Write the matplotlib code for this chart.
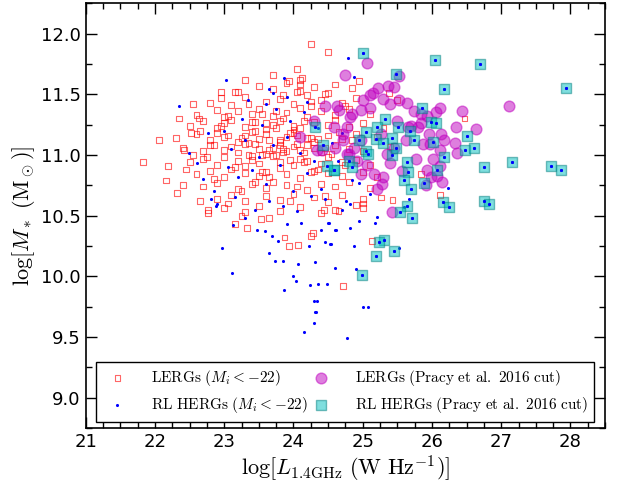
import matplotlib
matplotlib.use('Agg')
import matplotlib.pyplot as plt
from matplotlib.ticker import MultipleLocator

plt.rcParams['mathtext.fontset'] = 'cm'

# LERGs (Mi < -22)
lerg_x = [23.2, 23.5, 23.7, 23.9, 24.1, 24.3, 24.5, 24.6,
          22.8, 22.95, 23.1, 23.3, 23.6, 23.8, 24.0, 24.2, 24.4, 24.7, 24.9,
          22.6, 22.9, 23.0, 23.2, 23.4, 23.5, 23.7, 23.9, 24.1, 24.2, 24.4, 24.6, 24.8, 25.1,
          22.5, 22.7, 22.9, 23.0, 23.1, 23.3, 23.4, 23.6, 23.7, 23.8, 24.0, 24.1, 24.3, 24.5, 24.6, 24.8, 25.0, 25.3,
          22.3, 22.6, 22.8, 22.9, 23.0, 23.2, 23.3, 23.4, 23.5, 23.6, 23.8, 23.9, 24.0, 24.2, 24.3, 24.5, 24.7, 24.9, 25.2,
          22.4, 22.7, 22.8, 23.0, 23.1, 23.2, 23.3, 23.5, 23.6, 23.7, 23.8, 23.9, 24.0, 24.1, 24.3, 24.4, 24.6, 24.8, 25.0, 25.4,
          22.5, 22.7, 22.9, 23.0, 23.2, 23.3, 23.4, 23.5, 23.7, 23.8, 24.0, 24.1, 24.2, 24.4, 24.5, 24.7, 24.9, 25.1,
          22.6, 22.8, 23.0, 23.1, 23.3, 23.5, 23.6, 23.8, 23.9, 24.1, 24.3, 24.5, 24.7, 25.0, 25.2,
          22.7, 22.9, 23.2, 23.4, 23.6, 23.7, 23.9, 24.2, 24.4, 24.6, 24.8, 25.1,
          22.9, 23.1, 23.3, 23.6, 23.8, 24.0, 24.3, 24.5, 24.7, 25.0,
          23.0, 23.3, 23.5, 23.8, 24.1, 24.4, 24.6, 24.9,
          23.35, 23.45, 23.55, 23.65, 23.75, 23.85, 23.95, 24.05, 24.15, 24.25, 23.4, 23.6, 23.8, 24.0, 24.2,
          22.65, 22.85, 23.05, 23.25, 23.45, 23.65, 23.85, 24.05, 24.25, 24.45, 24.65, 24.85,
          22.75, 22.95, 23.15, 23.35, 23.55, 23.75, 23.95, 24.15, 24.35, 24.55, 24.75,
          22.55, 22.85, 23.05, 23.25, 23.45, 23.65, 23.85, 24.05, 24.25, 24.45,
          23.15, 23.35, 23.55, 23.75, 23.95, 24.15, 24.35, 23.05, 23.45, 23.85, 24.25,
          22.45, 22.65, 22.35, 22.55, 22.95, 23.25, 23.65, 24.05, 24.45, 24.75, 23.7, 23.3,
          24.25, 24.5, 24.05, 24.09, 24.12, 23.93, 24.09, 22.06, 21.83, 22.19, 22.16, 22.32, 22.41, 22.42,
          22.52, 22.63, 22.77, 22.77, 23.16, 23.33, 23.53, 23.93, 24.06, 24.25, 24.28, 24.71, 24.44, 24.65,
          23.87, 25.84, 26.12, 26.47, 25.50, 25.38, 24.94, 24.84, 25.43, 25.0, 25.0, 25.14, 25.26]
lerg_y = [11.52, 11.57, 11.54, 11.59, 11.53, 11.56, 11.51, 11.58,
          11.43, 11.47, 11.41, 11.48, 11.44, 11.46, 11.42, 11.49, 11.45, 11.43, 11.47,
          11.33, 11.37, 11.31, 11.36, 11.34, 11.38, 11.32, 11.35, 11.39, 11.31, 11.36, 11.33, 11.38, 11.34,
          11.24, 11.28, 11.22, 11.26, 11.29, 11.23, 11.27, 11.21, 11.25, 11.28, 11.24, 11.22, 11.27, 11.25, 11.29, 11.23, 11.26, 11.22,
          11.14, 11.17, 11.12, 11.18, 11.15, 11.11, 11.16, 11.19, 11.13, 11.17, 11.12, 11.15, 11.18, 11.14, 11.11, 11.16, 11.13, 11.17, 11.15,
          11.06, 11.03, 11.08, 11.04, 11.07, 11.02, 11.09, 11.05, 11.01, 11.06, 11.08, 11.03, 11.07, 11.04, 11.06, 11.02, 11.08, 11.05, 11.03, 11.07,
          10.94, 10.97, 10.92, 10.98, 10.95, 10.91, 10.96, 10.93, 10.99, 10.94, 10.92, 10.97, 10.95, 10.93, 10.98, 10.94, 10.96, 10.92,
          10.84, 10.87, 10.82, 10.88, 10.85, 10.83, 10.86, 10.89, 10.84, 10.81, 10.87, 10.85, 10.83, 10.86, 10.82,
          10.74, 10.77, 10.72, 10.76, 10.73, 10.78, 10.75, 10.71, 10.76, 10.74, 10.78, 10.73,
          10.64, 10.67, 10.62, 10.66, 10.63, 10.68, 10.65, 10.61, 10.67, 10.64,
          10.56, 10.53, 10.58, 10.54, 10.57, 10.52, 10.55, 10.59,
          11.10, 11.20, 11.00, 11.12, 11.22, 11.05, 11.18, 11.09, 11.02, 11.14, 10.99, 11.26, 11.11, 11.21, 11.08,
          11.20, 11.08, 11.32, 11.14, 11.27, 11.04, 11.30, 11.16, 11.40, 11.06, 11.19, 11.12,
          10.98, 11.24, 10.90, 11.42, 10.86, 11.36, 10.96, 11.28, 10.88, 11.01, 10.92,
          11.00, 10.80, 11.16, 10.70, 11.09, 10.82, 11.02, 10.74, 11.44, 10.66,
          11.52, 11.00, 11.34, 11.00, 10.62, 10.94, 11.13, 10.60, 10.78, 11.49, 10.86,
          10.88, 10.62, 11.30, 11.42, 11.52, 10.50, 10.48, 11.52, 11.50, 11.40, 11.66, 11.62,
          11.91, 11.85, 11.71, 11.62, 11.63, 11.61, 11.58, 11.12, 10.94, 10.91, 10.79, 10.69, 10.75, 11.04,
          11.18, 11.30, 10.55, 10.52, 10.43, 10.40, 10.47, 10.25, 10.26, 10.33, 10.36, 9.92, 10.55, 10.54,
          10.32, 10.84, 10.67, 11.30, 11.45, 11.51, 11.61, 11.55, 10.63, 10.60, 10.56, 10.29, 10.65]

# RL HERGs (Mi < -22)
herg_x = [22.35, 23.02, 24.79, 22.97, 23.11, 23.86, 24.04, 24.24, 24.36, 24.49, 24.34, 24.33,
          23.64, 23.73, 23.85, 24.06, 24.31, 24.60, 24.45, 24.54, 24.23, 23.78, 23.69, 23.59,
          23.48, 23.30, 23.13, 23.91, 24.11, 24.52, 24.61, 24.40, 22.81, 22.88, 22.49, 22.60,
          22.77, 23.65, 23.71, 23.86, 24.87, 24.90, 24.87, 26.23, 25.07, 25.18, 25.21, 25.52,
          24.95, 24.81, 24.60, 24.53, 24.50, 25.67, 25.59, 25.10, 24.84, 24.95, 24.70, 24.82, 24.76,
          23.99, 24.30, 24.31, 24.30, 24.15, 24.77, 25.01,
          23.1, 23.3, 23.5, 23.7, 23.9, 24.1, 24.3, 23.2, 23.4, 23.6, 23.8, 24.0, 24.2, 24.4,
          23.0, 23.25, 23.55, 23.75, 23.95, 24.15, 24.35, 24.55, 22.9, 23.15, 23.45, 23.65,
          23.85, 24.05, 24.25, 24.45, 23.35, 23.6, 23.9, 24.2, 22.7, 22.85, 23.05, 24.65, 24.7]
herg_y = [11.40, 11.62, 11.80, 10.23, 10.03, 9.89, 9.96, 9.93, 9.94, 9.94, 9.80, 9.71,
          10.19, 10.13, 10.13, 10.10, 10.12, 10.07, 10.28, 10.27, 10.25, 10.29, 10.33, 10.37,
          10.38, 10.48, 10.42, 10.43, 10.44, 10.44, 10.38, 10.38, 10.64, 10.58, 11.02, 10.93,
          11.18, 11.54, 11.51, 11.63, 10.25, 10.06, 11.64, 10.73, 9.75, 10.44, 10.49, 10.23,
          10.46, 10.40, 10.38, 10.27, 10.44, 10.64, 10.57, 10.68, 10.79, 10.77, 10.55, 10.60, 10.62,
          10.00, 9.62, 9.71, 9.80, 9.54, 9.49, 9.75,
          11.05, 11.12, 10.98, 11.08, 11.15, 11.02, 10.95, 10.82, 10.88, 10.76, 10.92, 10.70, 10.85, 10.72,
          11.20, 11.30, 11.25, 11.38, 11.28, 11.35, 11.22, 11.10, 10.60, 10.65, 10.55, 10.62,
          10.58, 10.54, 10.66, 10.64, 11.45, 11.42, 11.48, 11.44, 10.80, 10.70, 10.90, 10.95, 11.18]

# LERGs (Pracy et al. 2016 cut)
plerg_x = [25.06, 24.74, 25.52, 25.37, 25.45, 25.22, 25.15, 25.11, 25.29, 25.01, 25.64, 25.39,
           25.74, 25.84, 25.93, 26.12, 26.06, 26.44, 27.11, 25.50, 25.70, 25.84, 25.96, 26.13,
           26.33, 26.34, 26.63, 26.36, 26.17, 25.87, 25.97, 26.12, 26.02, 25.77, 26.12, 25.93,
           26.15, 25.91, 25.99, 26.07, 25.43, 25.65, 25.62, 25.40, 25.30, 25.21, 25.28, 25.06,
           24.98, 25.17, 25.35, 24.92, 24.97, 24.77, 24.66, 24.82, 24.97, 25.11, 25.26, 25.45,
           25.57, 25.80, 25.53, 24.71, 24.60, 24.77, 24.87, 24.46, 24.63, 24.29, 24.09, 24.41,
           24.72, 24.80, 24.34, 24.58, 24.84]
plerg_y = [11.76, 11.66, 11.65, 11.57, 11.56, 11.55, 11.51, 11.49, 11.46, 11.45, 11.43, 11.42,
           11.36, 11.34, 11.32, 11.39, 11.35, 11.36, 11.40, 11.28, 11.24, 11.26, 11.17, 11.17,
           11.10, 11.23, 11.21, 11.02, 11.12, 11.09, 11.09, 11.04, 10.97, 10.97, 10.91, 10.88,
           10.78, 10.75, 10.82, 10.83, 10.53, 11.23, 11.12, 10.93, 10.82, 10.72, 10.76, 10.92,
           10.84, 10.84, 11.01, 10.95, 11.12, 11.23, 11.37, 11.31, 11.37, 11.39, 11.17, 11.06,
           10.87, 11.23, 11.45, 11.12, 11.06, 11.01, 11.06, 11.40, 11.40, 11.28, 11.15, 11.04,
           11.17, 11.01, 11.04, 11.23, 11.34]

# RL HERGs (Pracy et al. 2016 cut)
pherg_x = [25.01, 26.04, 26.70, 27.94, 26.18, 25.48, 25.86, 25.99, 26.06, 26.51, 26.48, 26.60,
           26.01, 25.74, 26.17, 26.75, 27.15, 27.72, 27.86, 25.66, 25.64, 25.59, 25.70, 25.88,
           26.08, 26.16, 26.25, 26.75, 26.83, 25.64, 25.54, 25.71, 25.31, 25.24, 25.45, 25.19,
           24.99, 25.32, 25.05, 25.21, 25.43, 25.51, 25.69, 25.19, 25.05, 25.08, 25.43, 25.48,
           24.94, 24.80, 24.84, 24.58, 25.30, 24.31, 24.43, 24.59, 24.49]
pherg_y = [11.84, 11.78, 11.75, 11.55, 11.54, 11.67, 11.39, 11.27, 11.26, 11.16, 11.04, 11.06,
           11.11, 11.12, 10.98, 10.90, 10.94, 10.91, 10.88, 10.86, 10.94, 10.79, 10.72, 10.77,
           10.88, 10.61, 10.57, 10.62, 10.60, 10.58, 10.53, 10.48, 10.30, 10.28, 10.21, 10.17,
           10.01, 11.30, 11.19, 11.23, 11.14, 11.23, 11.20, 11.13, 11.03, 11.01, 11.00, 11.06,
           11.12, 10.95, 10.90, 10.88, 11.10, 11.23, 11.08, 10.88, 10.91]

fig = plt.figure(figsize=(6.28, 4.86), dpi=100)
ax = fig.add_axes([0.1365, 0.119, 0.827, 0.8745])

ax.scatter(lerg_x, lerg_y, s=18, marker='s', facecolors='none', edgecolors='red',
           linewidths=0.8, alpha=0.6, label=r'$\mathrm{LERGs}\ (M_i < -22)$')
ax.scatter(herg_x + pherg_x, herg_y + pherg_y, s=5, marker='o', color='blue', lw=0,
           label=r'$\mathrm{RL\ HERGs}\ (M_i < -22)$')
ax.scatter(plerg_x, plerg_y, s=60, marker='o', color='m', edgecolors='m', lw=1, alpha=0.5,
           label=r'$\mathrm{LERGs\ (Pracy\ et\ al.\ 2016\ cut)}$')
ax.scatter(pherg_x, pherg_y, s=60, marker='s', color='c', edgecolors='teal', lw=1, alpha=0.5,
           label=r'$\mathrm{RL\ HERGs\ (Pracy\ et\ al.\ 2016\ cut)}$')
ax.scatter(pherg_x, pherg_y, s=5, marker='o', color='blue', lw=0)

ax.set_xlim(21, 28.5)
ax.set_ylim(8.75, 12.25)
ax.xaxis.set_major_locator(MultipleLocator(1))
ax.xaxis.set_minor_locator(MultipleLocator(0.25))
ax.yaxis.set_major_locator(MultipleLocator(0.5))
ax.yaxis.set_minor_locator(MultipleLocator(0.25))
ax.tick_params(which='both', direction='in', top=True, right=True, labelsize=13)
ax.tick_params(which='major', length=8, width=1)
ax.tick_params(which='minor', length=4, width=1)
for s in ax.spines.values():
    s.set_linewidth(1.2)

ax.set_xlabel(r'$\log[L_{1.4\mathrm{GHz}}\ (\mathrm{W\ Hz^{-1}})]$', fontsize=16, labelpad=2)
ax.set_ylabel(r'$\log[M_*\ (\mathrm{M_\odot})]$', fontsize=16, labelpad=3)

leg = ax.legend(loc='lower left', ncol=2, fontsize=11, scatterpoints=1, fancybox=False,
                edgecolor='black', framealpha=1, borderaxespad=0, mode='expand',
                handletextpad=1.2, bbox_to_anchor=(0.02, 0.0155, 0.959, 0.14))
leg.get_frame().set_linewidth(1.0)

plt.savefig('out.png', dpi=100)
